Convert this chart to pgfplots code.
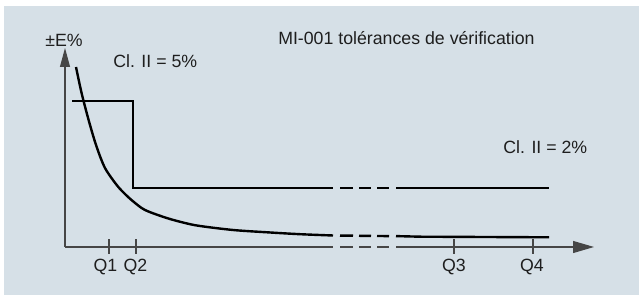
\documentclass[border=0pt]{standalone}
\usepackage{pgfplots}
\pgfplotsset{compat=1.18}
\usepackage{fontspec}
\setmainfont{Liberation Sans}
\usetikzlibrary{arrows.meta}
\definecolor{bg}{RGB}{214,224,231}
\definecolor{axc}{RGB}{70,70,70}
\definecolor{txt}{RGB}{30,30,30}
\tikzset{lbl/.style={font=\fontsize{13.3pt}{15pt}\selectfont, text=txt, inner sep=0pt}}
\begin{document}
\begin{tikzpicture}
\begin{axis}[
  scale only axis, width=479.25pt, height=221.25pt,
  xmin=-65, xmax=574, ymin=-48, ymax=247,
  hide axis, clip=false,
]
\fill[white] (axis cs:-65,-48) rectangle (axis cs:574,247);
\fill[bg] (axis cs:-61,-48) rectangle (axis cs:574,241);
% y axis
\addplot[axc, line width=0.8pt, -{Triangle[length=14.25pt,width=7.5pt]}] coordinates {(0,0) (0,199)};
% x axis with break
\addplot[axc, line width=0.8pt] coordinates {(0,0) (268,0)};
\addplot[axc, line width=0.8pt] coordinates {(275,0) (288,0)};
\addplot[axc, line width=0.8pt] coordinates {(294,0) (306,0)};
\addplot[axc, line width=0.8pt] coordinates {(312,0) (324,0)};
\addplot[axc, line width=0.8pt, -{Triangle[length=15.75pt,width=9pt]}] coordinates {(331,0) (529,0)};
% ticks
\addplot[axc, line width=0.8pt] coordinates {(44,-7) (44,8)};
\addplot[axc, line width=0.8pt] coordinates {(71,-7) (71,8)};
\addplot[axc, line width=0.8pt] coordinates {(389,-7) (389,8)};
\addplot[axc, line width=0.8pt] coordinates {(468,-7) (468,8)};
% tolerance step
\addplot[black, line width=1pt] coordinates {(7,146) (68,146) (68,59) (268,59)};
\addplot[black, line width=1pt] coordinates {(275,59) (288,59)};
\addplot[black, line width=1pt] coordinates {(294,59) (306,59)};
\addplot[black, line width=1pt] coordinates {(312,59) (324,59)};
\addplot[black, line width=1pt] coordinates {(331,59) (484,59)};
% error curve
\addplot[black, line width=1.8pt, smooth] coordinates {
 (11,180) (15,161) (18.3,147) (25,122) (31.7,100) (40,79) (51.7,62) (60,53)
 (68.3,45.5) (80,37) (101.7,29) (120,24) (135,21) (168,17) (202,14.7)
 (235,12.8) (268,11.5)};
\addplot[black, line width=1.8pt] coordinates {(275,11.4) (288,11.3)};
\addplot[black, line width=1.8pt] coordinates {(294,11.2) (306,11.1)};
\addplot[black, line width=1.8pt] coordinates {(312,11.0) (324,10.9)};
\addplot[black, line width=1.8pt] coordinates {(331,10.9) (355,10.3) (484,9.7)};
% texts
\node[lbl, anchor=base west] at (axis cs:-20,200) {±E\%};
\node[lbl, anchor=base west] at (axis cs:48,179) {Cl. II = 5\%};
\node[lbl, anchor=base west] at (axis cs:213,202) {MI-001 tolérances de vérification};
\node[lbl, anchor=base west] at (axis cs:438,93) {Cl. II = 2\%};
\node[lbl, anchor=base] at (axis cs:40.5,-25) {Q1};
\node[lbl, anchor=base] at (axis cs:70.5,-25) {Q2};
\node[lbl, anchor=base] at (axis cs:389,-25) {Q3};
\node[lbl, anchor=base] at (axis cs:467,-25) {Q4};
\end{axis}
\end{tikzpicture}
\end{document}
